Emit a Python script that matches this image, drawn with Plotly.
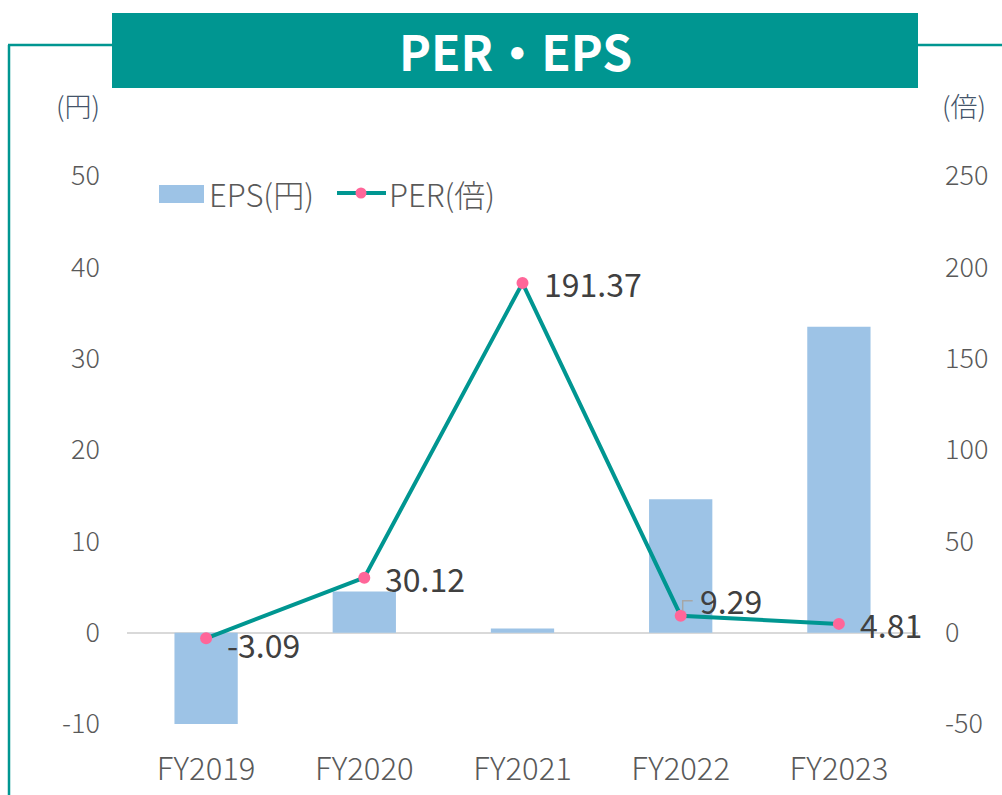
import plotly.graph_objects as go

categories = ["FY2019", "FY2020", "FY2021", "FY2022", "FY2023"]
eps_values = [-10.2, 4.5, 0.45, 14.6, 33.5]
per_values = [-3.09, 30.12, 191.37, 9.29, 4.81]
per_labels = ["-3.09", "30.12", "191.37", "9.29", "4.81"]
left_ticks = [-10, 0, 10, 20, 30, 40, 50]
left_ticktext = ["-10", "0", "10", "20", "30", "40", "50"]
right_ticks = [-50, 0, 50, 100, 150, 200, 250]
right_ticktext = ["-50", "0", "50", "100", "150", "200", "250"]

W, H = 1002, 795
L, R, T, B = 127, 918, 176, 724
FONT = "Noto Sans CJK JP"
TEAL = "#009691"
PINK = "#FF6699"
BLUE = "#9DC3E6"

def px(x):
    return (x - L) / (R - L)

def py(y):
    return (B - y) / (B - T)

fig = go.Figure()
fig.add_trace(go.Bar(
    x=categories, y=eps_values, name="EPS(円)", width=0.4,
    marker=dict(color=BLUE, line=dict(width=0)), yaxis="y",
))
fig.add_trace(go.Scatter(
    x=categories, y=per_values, name="PER(倍)", yaxis="y2", mode="lines+markers",
    line=dict(color=TEAL, width=4),
    marker=dict(color=PINK, size=12),
))

annotations = []
for i, (c, v, t) in enumerate(zip(categories, per_values, per_labels)):
    annotations.append(dict(
        x=c, y=v, xref="x", yref="y2", text=t, showarrow=False,
        xanchor="left", yanchor="middle", xshift=19 if i != 3 else 17,
        yshift=-6 if i == 0 else (16 if i == 3 else 0),
        font=dict(family=FONT, size=32, color="#404040", weight=400),
    ))

annotations += [
    dict(x=px(515), y=py(50), xref="paper", yref="paper", text="<b>PER・EPS</b>",
         showarrow=False, xanchor="center", yanchor="middle",
         font=dict(family=FONT, size=48, color="white")),
    dict(x=px(102), y=py(105), xref="paper", yref="paper", text="(円)",
         showarrow=False, xanchor="right", yanchor="middle",
         font=dict(family=FONT, size=27, color="#44546A", weight=300)),
    dict(x=px(940), y=py(105), xref="paper", yref="paper", text="(倍)",
         showarrow=False, xanchor="left", yanchor="middle",
         font=dict(family=FONT, size=27, color="#44546A", weight=300)),
    # manual legend texts
    dict(x=px(207), y=py(193), xref="paper", yref="paper", text="EPS(円)",
         showarrow=False, xanchor="left", yanchor="middle",
         font=dict(family=FONT, size=31, color="#595959", weight=300)),
    dict(x=px(387), y=py(193), xref="paper", yref="paper", text="PER(倍)",
         showarrow=False, xanchor="left", yanchor="middle",
         font=dict(family=FONT, size=31, color="#595959", weight=300)),
]

shapes = [
    dict(type="rect", xref="paper", yref="paper", x0=px(112), x1=px(918), y0=py(88), y1=py(13),
         fillcolor=TEAL, line=dict(width=0), layer="above"),
    dict(type="line", xref="paper", yref="paper", x0=px(8), x1=px(112), y0=py(45), y1=py(45),
         line=dict(color=TEAL, width=2.5)),
    dict(type="line", xref="paper", yref="paper", x0=px(918), x1=px(1002), y0=py(45), y1=py(45),
         line=dict(color=TEAL, width=2.5)),
    dict(type="line", xref="paper", yref="paper", x0=px(9), x1=px(9), y0=py(45), y1=py(800),
         line=dict(color=TEAL, width=2.5)),
    # manual legend symbols
    dict(type="rect", xref="paper", yref="paper", x0=px(159), x1=px(204), y0=py(203), y1=py(185),
         fillcolor=BLUE, line=dict(width=0)),
    dict(type="line", xref="paper", yref="paper", x0=px(337), x1=px(386), y0=py(193), y1=py(193),
         line=dict(color=TEAL, width=4)),
    dict(type="circle", xref="paper", yref="paper", x0=px(355.5), x1=px(366.5), y0=py(198.5), y1=py(187.5),
         fillcolor=PINK, line=dict(width=0)),
    # leader line for the FY2022 label
    dict(type="path", xref="x", yref="y2", xsizemode="pixel", ysizemode="pixel",
         xanchor=3, yanchor=per_values[3], path="M 2 5 L 2 15 L 12 15",
         line=dict(color="#A6A6A6", width=1.5), layer="above"),
]

fig.update_layout(
    width=W, height=H, autosize=False,
    margin=dict(l=L, r=W - R, t=T, b=H - B, autoexpand=False),
    paper_bgcolor="white", plot_bgcolor="white",
    font=dict(family=FONT, color="#595959"),
    showlegend=False,
    xaxis=dict(range=[-0.5, len(categories) - 0.5], showgrid=False, showline=False,
               ticks="", automargin=False, ticklabelstandoff=24,
               tickfont=dict(family=FONT, size=31, color="#595959", weight=300)),
    yaxis=dict(range=[-10, 50], tickvals=left_ticks, ticktext=left_ticktext,
               showgrid=False, zeroline=True, automargin=False,
               zerolinecolor="#D9D9D9", zerolinewidth=2, showline=False, ticks="",
               ticklabelstandoff=26,
               tickfont=dict(family=FONT, size=27, color="#595959", weight=300)),
    yaxis2=dict(range=[-50, 250], tickvals=right_ticks, ticktext=right_ticktext,
                overlaying="y", side="right", automargin=False,
                showgrid=False, zeroline=False, showline=False, ticks="",
                ticklabelstandoff=26,
                tickfont=dict(family=FONT, size=27, color="#595959", weight=300)),
    annotations=annotations,
    shapes=shapes,
)

fig.write_html("out.html", config={"displayModeBar": False},
               post_script="document.body.style.margin='0';document.body.style.padding='0';")
